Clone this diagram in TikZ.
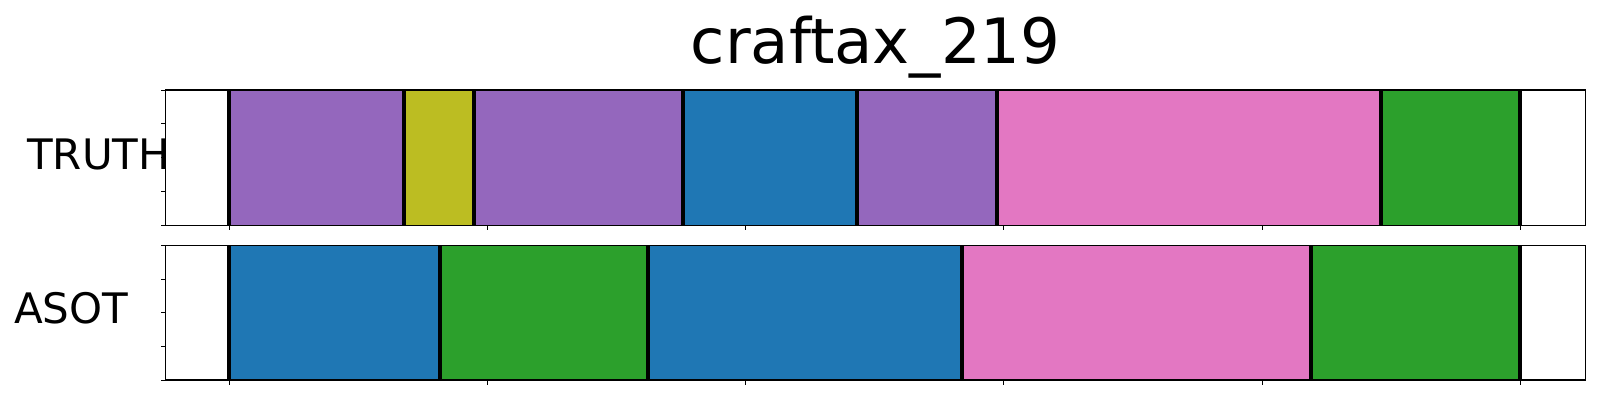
\documentclass[tikz,border=0pt]{standalone}
\usepackage{fontspec}
\setmainfont{DejaVu Sans}
\definecolor{tpurple}{HTML}{9467BD}
\definecolor{tolive}{HTML}{BCBD22}
\definecolor{tblue}{HTML}{1F77B4}
\definecolor{tpink}{HTML}{E377C2}
\definecolor{tgreen}{HTML}{2CA02C}
\tikzset{
  frame/.style={draw=black,line width=1.3pt},
  bound/.style={draw=black,line width=4pt},
  tick/.style={draw=black,line width=1pt},
  lbl/.style={font=\fontsize{42}{50}\selectfont,inner sep=0pt,anchor=base west},
  ttl/.style={font=\fontsize{62.5}{75}\selectfont,inner sep=0pt,anchor=base}
}
\begin{document}
\begin{tikzpicture}[x=1pt,y=-1pt]
\useasboundingbox (0,0) rectangle (1600,400);
\fill[white] (0,0) rectangle (1600,400);
% ---------- TRUTH panel (y 90 .. 225.3)
\def\ta{90}\def\tb{225.3}
\fill[tpurple] (229,\ta) rectangle (404,\tb);
\fill[tolive]  (404,\ta) rectangle (474,\tb);
\fill[tpurple] (474,\ta) rectangle (683,\tb);
\fill[tblue]   (683,\ta) rectangle (857,\tb);
\fill[tpurple] (857,\ta) rectangle (997,\tb);
\fill[tpink]   (997,\ta) rectangle (1381,\tb);
\fill[tgreen]  (1381,\ta) rectangle (1520,\tb);
\foreach \x in {229,404,474,683,857,997,1381,1520}
  \draw[bound] (\x,\ta) -- (\x,\tb);
\foreach \y in {90,123.8,157.7,191.5,225.3}
  \draw[tick] (165.3,\y) -- (160.5,\y);
\foreach \k in {0,...,5}
  \draw[tick] (229.3+258.2*\k,\tb) -- (229.3+258.2*\k,\tb+5);
\draw[frame] (165.3,\ta) rectangle (1585.7,\tb);
% ---------- ASOT panel (y 245.3 .. 380)
\def\aa{245.3}\def\ab{380}
\fill[tblue]  (229,\aa) rectangle (439.5,\ab);
\fill[tgreen] (439.5,\aa) rectangle (648,\ab);
\fill[tblue]  (648,\aa) rectangle (962,\ab);
\fill[tpink]  (962,\aa) rectangle (1311,\ab);
\fill[tgreen] (1311,\aa) rectangle (1520,\ab);
\foreach \x in {229,439.5,648,962,1311,1520}
  \draw[bound] (\x,\aa) -- (\x,\ab);
\foreach \y in {245.3,279,312.7,346.3,380}
  \draw[tick] (165.3,\y) -- (160.5,\y);
\foreach \k in {0,...,5}
  \draw[tick] (229.3+258.2*\k,\ab) -- (229.3+258.2*\k,\ab+5);
\draw[frame] (165.3,\aa) rectangle (1585.7,\ab);
% ---------- texts
\node[ttl] (title) at (875.5,63.3) {craftax\_219};
\node[lbl] (truth) at (27,169.3) {TRUTH};
\node[lbl] (asot) at (14,323) {ASOT};
\end{tikzpicture}
\end{document}
